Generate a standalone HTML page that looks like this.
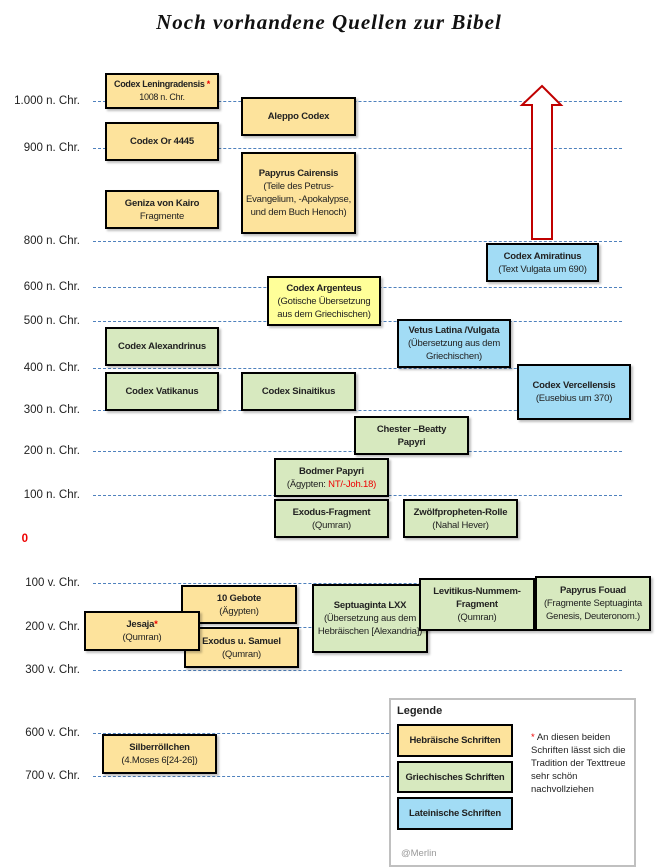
<!DOCTYPE html>
<html><head><meta charset="utf-8"><style>
body{margin:0;width:658px;height:867px;background:#fff;position:relative;overflow:hidden;font-family:"Liberation Sans",sans-serif;}
.l{position:absolute;right:578px;font-size:11.5px;color:#222;white-space:nowrap;line-height:12px}
.d{position:absolute;left:93px;width:529px;border-top:1px dashed #4f81bd;height:0}
.b{position:absolute;box-sizing:border-box;border:2px solid #000;display:flex;flex-direction:column;justify-content:center;align-items:center;text-align:center;font-size:9.5px;letter-spacing:-0.2px;line-height:13px;color:#222;box-shadow:2px 2px 2px rgba(0,0,0,.25);padding:0 2px}
.b b{font-weight:bold}
.h{background:#fde39c}.g{background:#d7e9bf}.t{background:#a2dcf5}.y{background:#ffff99}
.r{color:#e00}
</style></head><body>
<div style="position:absolute;left:0;width:658px;top:10px;text-align:center;font-family:'Liberation Serif',serif;font-style:italic;font-weight:bold;font-size:21px;letter-spacing:1px;color:#111">Noch vorhandene Quellen zur Bibel</div>

<div class="d" style="top:101px"></div><div class="l" style="top:95px">1.000 n. Chr.</div>
<div class="d" style="top:148px"></div><div class="l" style="top:142px">900 n. Chr.</div>
<div class="d" style="top:241px"></div><div class="l" style="top:235px">800 n. Chr.</div>
<div class="d" style="top:287px"></div><div class="l" style="top:281px">600 n. Chr.</div>
<div class="d" style="top:321px"></div><div class="l" style="top:315px">500 n. Chr.</div>
<div class="d" style="top:368px"></div><div class="l" style="top:362px">400 n. Chr.</div>
<div class="d" style="top:410px"></div><div class="l" style="top:404px">300 n. Chr.</div>
<div class="d" style="top:451px"></div><div class="l" style="top:445px">200 n. Chr.</div>
<div class="d" style="top:495px"></div><div class="l" style="top:489px">100 n. Chr.</div>
<div class="l" style="top:533px;color:#e00;font-weight:bold;right:630px">0</div>
<div class="d" style="top:583px"></div><div class="l" style="top:577px">100 v. Chr.</div>
<div class="d" style="top:627px"></div><div class="l" style="top:621px">200 v. Chr.</div>
<div class="d" style="top:670px"></div><div class="l" style="top:664px">300 v. Chr.</div>
<div class="d" style="top:733px;width:296px"></div><div class="l" style="top:727px">600 v. Chr.</div>
<div class="d" style="top:776px;width:296px"></div><div class="l" style="top:770px">700 v. Chr.</div>

<svg style="position:absolute;left:0;top:0" width="658" height="867"><polygon points="542,86 561,105 552,105 552,239 532,239 532,105 522,105" fill="#fff" stroke="#c00000" stroke-width="2"/></svg>

<div class="b h" style="left:105px;top:73px;width:114px;height:36px;font-size:9px;letter-spacing:-0.3px"><b style="white-space:nowrap">Codex Leningradensis <span class="r">*</span></b>1008 n. Chr.</div>
<div class="b h" style="left:241px;top:97px;width:115px;height:39px"><b>Aleppo Codex</b></div>
<div class="b h" style="left:105px;top:122px;width:114px;height:39px"><b>Codex Or 4445</b></div>
<div class="b h" style="left:241px;top:152px;width:115px;height:82px"><b>Papyrus Cairensis</b>(Teile des Petrus-Evangelium, -Apokalypse, und dem Buch Henoch)</div>
<div class="b h" style="left:105px;top:190px;width:114px;height:39px"><b>Geniza von Kairo</b>Fragmente</div>
<div class="b t" style="left:486px;top:243px;width:113px;height:39px"><b>Codex Amiratinus</b>(Text Vulgata um 690)</div>
<div class="b y" style="left:267px;top:276px;width:114px;height:50px"><b>Codex Argenteus</b>(Gotische Übersetzung aus dem Griechischen)</div>
<div class="b t" style="left:397px;top:319px;width:114px;height:49px"><b>Vetus Latina /Vulgata</b>(Übersetzung aus dem Griechischen)</div>
<div class="b g" style="left:105px;top:327px;width:114px;height:39px"><b>Codex Alexandrinus</b></div>
<div class="b g" style="left:105px;top:372px;width:114px;height:39px"><b>Codex Vatikanus</b></div>
<div class="b g" style="left:241px;top:372px;width:115px;height:39px"><b>Codex Sinaitikus</b></div>
<div class="b t" style="left:517px;top:364px;width:114px;height:56px"><b>Codex Vercellensis</b>(Eusebius um 370)</div>
<div class="b g" style="left:354px;top:416px;width:115px;height:39px"><b>Chester –Beatty<br>Papyri</b></div>
<div class="b g" style="left:274px;top:458px;width:115px;height:39px"><b>Bodmer Papyri</b><span>(Ägypten: <span class="r">NT/-Joh.18)</span></span></div>
<div class="b g" style="left:274px;top:499px;width:115px;height:39px"><b>Exodus-Fragment</b>(Qumran)</div>
<div class="b g" style="left:403px;top:499px;width:115px;height:39px"><b>Zwölfpropheten-Rolle</b>(Nahal Hever)</div>
<div class="b h" style="left:184px;top:627px;width:115px;height:41px"><b>Exodus u. Samuel</b>(Qumran)</div>
<div class="b h" style="left:181px;top:585px;width:116px;height:39px"><b>10 Gebote</b>(Ägypten)</div>
<div class="b h" style="left:84px;top:611px;width:116px;height:40px"><b>Jesaja<span class="r">*</span></b>(Qumran)</div>
<div class="b g" style="left:312px;top:584px;width:116px;height:69px"><b>Septuaginta LXX</b>(Übersetzung aus dem Hebräischen [Alexandria])</div>
<div class="b g" style="left:419px;top:578px;width:116px;height:53px"><b>Levitikus-Nummem-Fragment</b>(Qumran)</div>
<div class="b g" style="left:535px;top:576px;width:116px;height:55px"><b>Papyrus Fouad</b>(Fragmente Septuaginta Genesis, Deuteronom.)</div>
<div class="b h" style="left:102px;top:734px;width:115px;height:40px"><b>Silberröllchen</b>(4.Moses 6[24-26])</div>

<div style="position:absolute;left:389px;top:698px;width:243px;height:165px;border:2px solid #c0c0c0;background:#fff"></div>
<div style="position:absolute;left:397px;top:705px;font-size:11px;font-weight:bold;color:#222">Legende</div>
<div class="b h" style="left:397px;top:724px;width:116px;height:33px;box-shadow:none"><b>Hebräische Schriften</b></div>
<div class="b g" style="left:397px;top:761px;width:116px;height:32px;box-shadow:none"><b>Griechisches Schriften</b></div>
<div class="b t" style="left:397px;top:797px;width:116px;height:33px;box-shadow:none"><b>Lateinische Schriften</b></div>
<div style="position:absolute;left:531px;top:731px;width:100px;font-size:9.5px;line-height:13px;color:#222"><span class="r">*</span> An diesen beiden Schriften lässt sich die Tradition der Texttreue sehr schön nachvollziehen</div>
<div style="position:absolute;left:401px;top:848px;font-size:9.5px;color:#999">@Merlin</div>
</body></html>
